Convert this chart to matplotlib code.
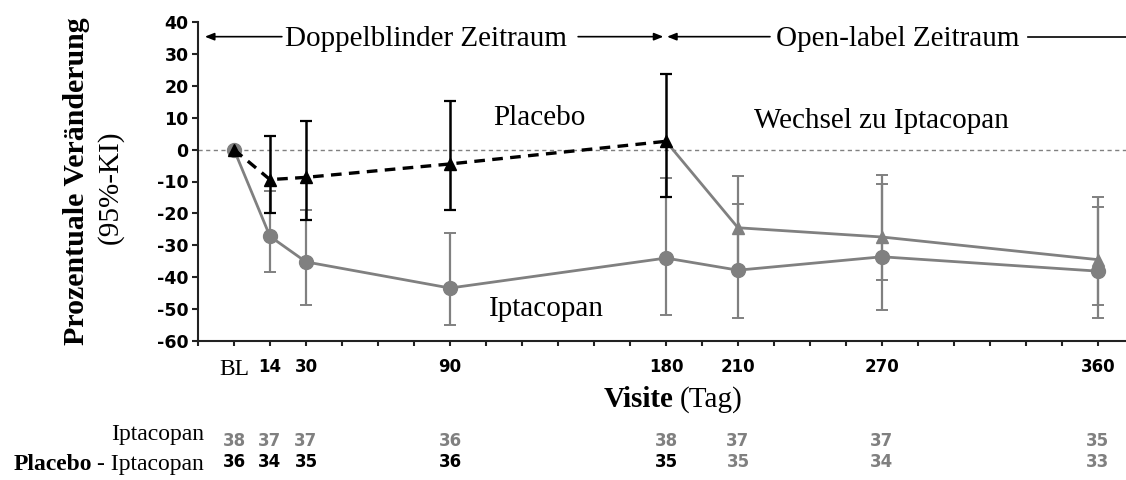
import numpy as np
import matplotlib
matplotlib.use("Agg")
import matplotlib.pyplot as plt
from matplotlib.transforms import blended_transform_factory

plt.rcParams["axes.unicode_minus"] = False

# ---------------- data ----------------
visit_labels = ["BL", "14", "30", "90", "180", "210", "270", "360"]
visit_days = [0, 14, 30, 90, 180, 210, 270, 360]

# Iptacopan arm (all visits)
ipt_mean = [0, -27.2, -35.2, -43.4, -34.0, -37.8, -33.6, -38.1]
ipt_lo = [np.nan, -38.5, -48.8, -55.0, -52.0, -52.8, -50.2, -52.8]
ipt_hi = [np.nan, -13.0, -19.0, -26.1, -8.9, -17.0, -10.8, -18.0]

# Placebo (double-blind period): BL, 14, 30, 90, 180
pbo_idx = [0, 1, 2, 3, 4]
pbo_mean = [0, -9.4, -8.7, -4.5, 2.6]
pbo_lo = [np.nan, -19.8, -22.0, -18.8, -14.8]
pbo_hi = [np.nan, 4.2, 8.9, 15.1, 23.8]

# Placebo -> Iptacopan (open-label): 180, 210, 270, 360
sw_idx = [4, 5, 6, 7]
sw_mean = [2.6, -24.5, -27.4, -34.5]
sw_lo = [np.nan, -38.0, -40.8, -48.8]
sw_hi = [np.nan, -8.2, -8.0, -15.0]

# patients at risk
n_ipt = [38, 37, 37, 36, 38, 37, 37, 35]
n_pbo = [36, 34, 35, 36, 35, 35, 34, 33]
n_pbo_open = [False, False, False, False, False, True, True, True]

# ---------------- layout ----------------
W, H = 1126, 480
fig = plt.figure(figsize=(W / 100, H / 100), dpi=100)
ax = fig.add_axes([198 / W, 1 - 341 / H, (W - 198) / W, (341 - 22) / H])

GREY = "#808080"
SERIF = "Liberation Serif"
SANS = "DejaVu Sans"

xpos = np.array([round(d / 15) + 1 for d in visit_days], dtype=float)

def yerr(mean, lo, hi):
    m = np.array(mean, float)
    return np.vstack([m - np.array(lo, float), np.array(hi, float) - m])

ax.axhline(0, color=GREY, lw=1.0, dashes=(3, 2.5), zorder=1)

# Iptacopan
ax.errorbar(xpos, ipt_mean, yerr=yerr(ipt_mean, ipt_lo, ipt_hi), fmt="none",
            ecolor=GREY, elinewidth=1.6, capsize=4.2, capthick=1.4, zorder=2)
ax.plot(xpos, ipt_mean, color=GREY, lw=2.0, marker="o", ms=10,
        mfc=GREY, mec=GREY, zorder=3)

# Placebo -> Iptacopan
xs = xpos[sw_idx]
ax.errorbar(xs, sw_mean, yerr=yerr(sw_mean, sw_lo, sw_hi), fmt="none",
            ecolor=GREY, elinewidth=1.6, capsize=4.2, capthick=1.4, zorder=2)
ax.plot(xs, sw_mean, color=GREY, lw=2.0, zorder=3)
ax.plot(xs[1:], sw_mean[1:], ls="none", marker="^", ms=9, mfc=GREY, mec=GREY, zorder=4)

# Placebo
xp = xpos[pbo_idx]
ax.errorbar(xp, pbo_mean, yerr=yerr(pbo_mean, pbo_lo, pbo_hi), fmt="none",
            ecolor="black", elinewidth=1.8, capsize=4.2, capthick=1.6, zorder=4)
ax.plot(xp, pbo_mean, color="black", lw=2.4, dashes=(3.2, 2.2), zorder=5)
ax.plot(xp, pbo_mean, ls="none", marker="^", ms=9, mfc="black", mec="black", zorder=6)

# axes styling
ax.set_xlim(0, 25.78)
ax.set_ylim(-60, 40)
for s in ("top", "right"):
    ax.spines[s].set_visible(False)
for s in ("left", "bottom"):
    ax.spines[s].set_linewidth(1.5)
    ax.spines[s].set_color("#222222")

ax.set_yticks(np.arange(-60, 41, 10))
ax.tick_params(axis="y", direction="out", length=4.3, width=1.5, color="#222222",
               pad=2.5, labelsize=12.5)
for lab in ax.get_yticklabels():
    lab.set_fontfamily(SANS)
    lab.set_fontweight("bold")

ax.set_xticks(np.arange(0, 26, 1))
ax.set_xticklabels([])
ax.tick_params(axis="x", direction="out", length=3.8, width=1.5, color="#222222")

# visit labels under the axis
tr = blended_transform_factory(ax.transData, fig.transFigure)
for x, lab in zip(xpos, visit_labels):
    if lab == "BL":
        ax.text(x, 1 - 375 / H, lab, transform=tr, ha="center", va="baseline",
                fontsize=17, family=SERIF)
    else:
        ax.text(x, 1 - 372 / H, lab, transform=tr, ha="center", va="baseline",
                fontsize=12, family=SANS, fontweight="bold")

# header with arrows
yh = 35.4
arr = dict(arrowstyle="-|>,head_length=0.55,head_width=0.22", color="black",
           lw=1.2, shrinkA=0, shrinkB=0)
ax.annotate("", xy=(0.19, yh), xytext=(2.33, yh), arrowprops=arr, annotation_clip=False)
ax.annotate("", xy=(12.93, yh), xytext=(10.56, yh), arrowprops=arr, annotation_clip=False)
ax.annotate("", xy=(13.03, yh), xytext=(15.89, yh), arrowprops=arr, annotation_clip=False)
ax.plot([23.06, 25.78], [yh, yh], color="black", lw=1.2, clip_on=False)
ax.text(6.32, 32.5, "Doppelblinder Zeitraum", ha="center", va="baseline",
        fontsize=21, family=SERIF)
ax.text(19.44, 32.5, "Open-label Zeitraum", ha="center", va="baseline",
        fontsize=21, family=SERIF)

# in-plot labels
ax.text(9.47, 7.8, "Placebo", ha="center", va="baseline", fontsize=21, family=SERIF)
ax.text(18.99, 6.9, "Wechsel zu Iptacopan", ha="center", va="baseline",
        fontsize=21, family=SERIF)
ax.text(9.68, -52.3, "Iptacopan", ha="center", va="baseline", fontsize=21, family=SERIF)

# y label (two lines)
fig.text(77 / W, 1 - 181 / H, "Prozentuale Veränderung", rotation=90,
         ha="center", va="center", fontsize=21.5, family=SERIF, fontweight="bold")
fig.text(110 / W, 1 - 187 / H, "(95%-KI)", rotation=90,
         ha="center", va="center", fontsize=21, family=SERIF)

# x label
fig.text(673 / W, 1 - 407 / H, "Visite", ha="right", va="baseline",
         fontsize=21, family=SERIF, fontweight="bold")
fig.text(680 / W, 1 - 407 / H, "(Tag)", ha="left", va="baseline",
         fontsize=21, family=SERIF)

# numbers at risk
fig.text(204 / W, 1 - 440 / H, "Iptacopan", ha="right", va="baseline",
         fontsize=17, family=SERIF)
t2 = fig.text(204 / W, 1 - 470 / H, "- Iptacopan", ha="right", va="baseline",
              fontsize=17, family=SERIF)
fig.canvas.draw()
bb = t2.get_window_extent(renderer=fig.canvas.get_renderer())
fig.text((bb.x0 - 5) / W, 1 - 470 / H, "Placebo", ha="right", va="baseline",
         fontsize=17, family=SERIF, fontweight="bold")
for x, n in zip(xpos, n_ipt):
    ax.text(x, 1 - 446 / H, str(n), transform=tr, ha="center", va="baseline",
            fontsize=12, family=SANS, fontweight="bold", color=GREY)
for x, n, op in zip(xpos, n_pbo, n_pbo_open):
    ax.text(x, 1 - 467 / H, str(n), transform=tr, ha="center", va="baseline",
            fontsize=12, family=SANS, fontweight="bold",
            color=GREY if op else "black")

fig.savefig("out.png", dpi=100)
